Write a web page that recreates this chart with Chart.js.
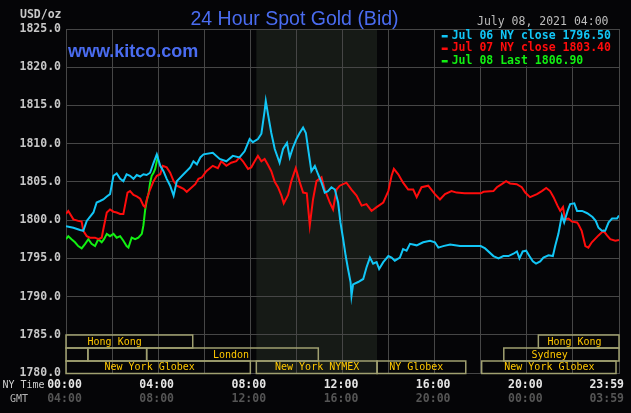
<!DOCTYPE html>
<html>
<head>
<meta charset="utf-8">
<script src="https://cdn.jsdelivr.net/npm/chart.js@4.4.0/dist/chart.umd.min.js"></script>
<style>
  html, body { margin: 0; padding: 0; background: #050507; }
  #wrap { width: 631px; height: 413px; }
</style>
</head>
<body>
<div id="wrap"><canvas id="gold" width="631" height="413"></canvas></div>
<script>
// spot gold bid, 24h (x = NY hour)
const jul06Hours = [0, 0.32, 0.61, 0.75, 0.9, 1.19, 1.33, 1.48, 1.62, 1.77, 1.91, 2.06, 2.2, 2.35, 2.49, 2.63, 2.78, 2.93, 3.07, 3.22, 3.36, 3.5, 3.65, 3.8, 3.94, 4.09, 4.23, 4.37, 4.52, 4.67, 4.81, 5.1, 5.39, 5.53, 5.68, 5.83, 5.97, 6.37, 6.67, 6.96, 7.24, 7.53, 7.75, 7.97, 8.11, 8.33, 8.48, 8.62, 8.67, 8.77, 8.91, 9.06, 9.27, 9.42, 9.59, 9.71, 9.85, 10.0, 10.14, 10.29, 10.41, 10.51, 10.65, 10.8, 10.94, 11.09, 11.23, 11.37, 11.52, 11.67, 11.81, 11.91, 12.03, 12.14, 12.24, 12.35, 12.39, 12.46, 12.68, 12.9, 13.04, 13.19, 13.33, 13.48, 13.59, 13.77, 13.99, 14.13, 14.27, 14.49, 14.63, 14.78, 14.93, 15.22, 15.5, 15.8, 16.01, 16.16, 16.37, 16.67, 17.1, 18.0, 18.19, 18.55, 18.77, 18.98, 19.2, 19.42, 19.57, 19.68, 19.82, 19.97, 20.11, 20.26, 20.4, 20.58, 20.72, 20.94, 21.13, 21.23, 21.37, 21.52, 21.62, 21.77, 21.88, 22.06, 22.18, 22.4, 22.62, 22.85, 22.99, 23.11, 23.26, 23.4, 23.55, 23.7, 23.91, 24];
const jul06Bid = [1799.2, 1799.0, 1798.7, 1798.6, 1799.9, 1801.0, 1802.3, 1802.5, 1802.7, 1803.1, 1803.4, 1805.8, 1806.1, 1805.4, 1805.1, 1806.0, 1805.8, 1805.4, 1805.9, 1805.7, 1806.0, 1805.9, 1806.2, 1807.5, 1808.6, 1807.1, 1806.4, 1805.4, 1804.5, 1803.2, 1805.1, 1806.0, 1806.9, 1807.7, 1807.3, 1808.2, 1808.6, 1808.8, 1808.0, 1807.7, 1808.4, 1808.2, 1809.0, 1810.6, 1810.2, 1810.6, 1811.3, 1814.3, 1815.6, 1813.8, 1811.4, 1809.3, 1807.5, 1809.3, 1810.1, 1808.2, 1809.5, 1810.6, 1811.4, 1812.1, 1811.4, 1809.3, 1806.4, 1807.1, 1806.0, 1804.9, 1803.6, 1803.8, 1804.3, 1804.0, 1802.3, 1799.7, 1797.5, 1795.3, 1793.6, 1791.9, 1790.1, 1791.6, 1791.9, 1792.3, 1793.8, 1795.1, 1794.3, 1794.5, 1793.6, 1794.5, 1795.3, 1795.1, 1794.7, 1795.1, 1796.2, 1796.0, 1796.9, 1796.7, 1797.1, 1797.3, 1797.1, 1796.4, 1796.6, 1796.8, 1796.6, 1796.6, 1796.3, 1795.3, 1795.0, 1795.3, 1795.3, 1795.6, 1795.9, 1795.0, 1795.9, 1796.0, 1795.3, 1794.6, 1794.3, 1794.6, 1795.1, 1795.4, 1795.3, 1796.6, 1798.2, 1800.6, 1799.7, 1801.2, 1802.1, 1802.2, 1801.2, 1801.2, 1800.9, 1800.4, 1799.9, 1799.0, 1798.6, 1798.6, 1799.7, 1800.2, 1800.2, 1800.6];

const jul07Hours = [0, 0.1, 0.32, 0.53, 0.68, 0.75, 0.9, 1.04, 1.26, 1.4, 1.55, 1.62, 1.77, 1.91, 2.06, 2.2, 2.35, 2.49, 2.56, 2.67, 2.78, 2.93, 3.07, 3.22, 3.36, 3.43, 3.53, 3.65, 3.8, 3.94, 4.09, 4.2, 4.37, 4.52, 4.67, 4.81, 4.96, 5.1, 5.24, 5.39, 5.61, 5.75, 5.9, 6.09, 6.37, 6.59, 6.74, 6.96, 7.17, 7.39, 7.53, 7.68, 7.9, 8.04, 8.19, 8.33, 8.48, 8.62, 8.77, 8.91, 9.06, 9.2, 9.35, 9.45, 9.64, 9.78, 9.97, 10.14, 10.29, 10.45, 10.58, 10.72, 10.87, 11.09, 11.23, 11.45, 11.59, 11.74, 11.88, 12.17, 12.39, 12.61, 12.83, 13.04, 13.26, 13.48, 13.77, 13.99, 14.13, 14.23, 14.42, 14.63, 14.85, 15.07, 15.22, 15.43, 15.72, 16.01, 16.23, 16.45, 16.73, 16.95, 17.3, 18.0, 18.12, 18.55, 18.7, 18.91, 19.1, 19.27, 19.56, 19.78, 19.93, 20.14, 20.29, 20.44, 20.65, 20.84, 21.01, 21.16, 21.33, 21.45, 21.57, 21.66, 21.81, 21.96, 22.18, 22.23, 22.38, 22.54, 22.67, 22.82, 23.11, 23.33, 23.48, 23.62, 23.84, 24];
const jul07Bid = [1800.8, 1801.2, 1800.1, 1799.9, 1799.8, 1798.6, 1797.9, 1797.7, 1797.7, 1797.5, 1797.7, 1798.8, 1801.0, 1801.4, 1801.1, 1801.0, 1800.8, 1800.8, 1801.9, 1803.6, 1803.8, 1803.3, 1803.1, 1802.8, 1801.9, 1801.7, 1803.0, 1804.0, 1805.1, 1805.8, 1806.0, 1807.1, 1806.9, 1806.2, 1805.1, 1804.5, 1804.3, 1804.1, 1803.7, 1804.1, 1804.7, 1805.4, 1805.6, 1806.4, 1807.1, 1806.8, 1807.7, 1807.1, 1807.5, 1807.7, 1808.2, 1807.7, 1806.7, 1806.9, 1807.7, 1808.4, 1807.7, 1808.0, 1807.2, 1806.4, 1805.0, 1804.3, 1803.2, 1802.2, 1803.3, 1805.1, 1806.8, 1805.0, 1803.6, 1803.5, 1799.3, 1802.7, 1805.1, 1805.6, 1804.0, 1802.3, 1801.4, 1804.0, 1804.5, 1804.9, 1804.0, 1803.2, 1801.9, 1802.1, 1801.2, 1801.7, 1802.3, 1803.8, 1805.8, 1806.7, 1806.0, 1804.9, 1804.0, 1804.0, 1803.0, 1804.3, 1804.5, 1803.4, 1802.7, 1803.4, 1803.8, 1803.6, 1803.5, 1803.5, 1803.7, 1803.8, 1804.3, 1804.7, 1805.1, 1804.8, 1804.7, 1804.3, 1803.6, 1803.0, 1803.2, 1803.4, 1803.8, 1804.2, 1803.8, 1803.0, 1801.9, 1801.2, 1801.7, 1800.1, 1800.2, 1799.8, 1799.7, 1799.5, 1798.6, 1796.6, 1796.4, 1797.1, 1798.0, 1798.6, 1798.0, 1797.5, 1797.3, 1797.4];

const jul08Hours = [0, 0.1, 0.24, 0.39, 0.53, 0.68, 0.83, 0.97, 1.11, 1.26, 1.4, 1.55, 1.65, 1.77, 1.91, 2.06, 2.2, 2.35, 2.49, 2.63, 2.71, 2.85, 3.0, 3.14, 3.29, 3.36, 3.43, 3.5, 3.58, 3.65, 3.72, 3.8, 3.87, 3.94, 3.98, 4.0];
const jul08Bid = [1797.5, 1797.9, 1797.5, 1797.1, 1796.6, 1796.3, 1796.9, 1797.5, 1796.9, 1796.6, 1797.5, 1797.1, 1797.5, 1798.2, 1797.9, 1798.2, 1797.7, 1797.9, 1797.3, 1796.6, 1796.4, 1797.7, 1797.5, 1797.7, 1798.2, 1799.3, 1801.2, 1802.5, 1803.4, 1804.9, 1805.8, 1806.2, 1806.7, 1807.7, 1808.2, 1808.0];

const seriesNames = ["Jul 06 NY close", "Jul 07 NY close", "Jul 08 Last"];
const seriesCloses = [1796.50, 1803.40, 1806.90];
const seriesColors = ["#12c6f6", "#ff0c0c", "#12f012"];

const nyLabels = ["00:00", "04:00", "08:00", "12:00", "16:00", "20:00", "23:59"];
const gmtLabels = ["04:00", "08:00", "12:00", "16:00", "20:00", "00:00", "03:59"];
const labelHours = [0, 4, 8, 12, 16, 20, 24];

// market sessions: row, from, to, name, where the name sits (hours)
const sessions = [
  [0, 0, 5.5, "Hong Kong", 2.11],
  [0, 20.5, 24, "Hong Kong", 22.07],
  [1, 0, 0.95, "", 0],
  [1, 0.95, 3.5, "", 0],
  [1, 3.5, 10.95, "London", 7.16],
  [1, 19, 24, "Sydney", 20.99],
  [2, 0, 8, "New York Globex", 3.63],
  [2, 8.26, 13.5, "New York NYMEX", 10.9],
  [2, 13.5, 17.35, "NY Globex", 15.2],
  [2, 18.04, 23.87, "New York Globex", 20.98]
];
const nymexOpen = 8.26, nymexClose = 13.5;

const mono = '"DejaVu Sans Mono", monospace';
const blue = "#4a6cf0";

function pts(h, v) {
  return h.map(function (x, i) { return { x: x, y: v[i] }; });
}

const kitcoDecor = {
  id: "kitcoDecor",
  beforeDraw(chart) {
    const ctx = chart.ctx, a = chart.chartArea, x = chart.scales.x;
    ctx.save();
    ctx.fillStyle = "#050507";
    ctx.fillRect(0, 0, chart.width, chart.height);
    const x0 = x.getPixelForValue(nymexOpen), x1 = x.getPixelForValue(nymexClose);
    ctx.fillStyle = "#161a16";
    ctx.fillRect(x0, a.top, x1 - x0, a.bottom - a.top);
    ctx.restore();
  },
  afterDatasetsDraw(chart) {
    const ctx = chart.ctx, x = chart.scales.x, y = chart.scales.y;
    ctx.save();

    // headings
    ctx.textBaseline = "alphabetic";
    ctx.textAlign = "center";
    ctx.fillStyle = blue;
    ctx.font = '19.5px "Liberation Sans", Arial, sans-serif';
    ctx.fillText("24 Hour Spot Gold (Bid)", 294.5, 25);
    ctx.textAlign = "left";
    ctx.font = 'bold 18px "Liberation Sans", Arial, sans-serif';
    ctx.fillText("www.kitco.com", 68, 57);

    ctx.textBaseline = "middle";
    ctx.fillStyle = "#c8c8c8";
    ctx.font = "bold 11.5px " + mono;
    ctx.fillText("USD/oz", 20, 15.5);
    ctx.textAlign = "right";
    ctx.fillStyle = "#bdbdbd";
    ctx.font = "11.5px " + mono;
    ctx.fillText("July 08, 2021 04:00", 608.5, 22.5);

    // legend cell
    const lx0 = x.getPixelForValue(16) + 1, lx1 = x.getPixelForValue(24) - 1;
    const ly0 = y.getPixelForValue(1825) + 1, ly1 = y.getPixelForValue(1820) - 1;
    ctx.fillStyle = "#050507";
    ctx.fillRect(lx0, ly0, lx1 - lx0, ly1 - ly0);
    ctx.textAlign = "left";
    ctx.font = "bold 11.5px " + mono;
    seriesNames.forEach(function (name, i) {
      const ty = 36 + i * 12.5;
      ctx.fillStyle = seriesColors[i];
      ctx.fillRect(441.7, ty - 1, 6, 2.5);
      ctx.fillText(name + " " + seriesCloses[i].toFixed(2), 451.7, ty);
    });

    // sessions
    const rowTop = [335, 348, 361], rowBot = [348, 361, 373.5];
    ctx.strokeStyle = "#a0a070";
    ctx.lineWidth = 1.5;
    ctx.font = "10px " + mono;
    ctx.fillStyle = "#ffc800";
    ctx.textAlign = "center";
    sessions.forEach(function (s) {
      const sx0 = x.getPixelForValue(s[1]), sx1 = x.getPixelForValue(s[2]);
      ctx.strokeRect(sx0, rowTop[s[0]], sx1 - sx0, rowBot[s[0]] - rowTop[s[0]]);
      if (s[3]) {
        ctx.fillText(s[3], x.getPixelForValue(s[4]), (rowTop[s[0]] + rowBot[s[0]]) / 2 + 0.5);
      }
    });

    // time labels
    ctx.font = "10px " + mono;
    ctx.textAlign = "left";
    ctx.fillStyle = "#cfcfcf";
    ctx.fillText("NY Time", 2.5, 385);
    ctx.fillStyle = "#b5b5b5";
    ctx.fillText("GMT", 10, 399);
    ctx.font = "bold 11.5px " + mono;
    labelHours.forEach(function (h, i) {
      let px = x.getPixelForValue(h);
      if (i === labelHours.length - 1) {
        ctx.textAlign = "right";
        px += 5;
      } else {
        ctx.textAlign = "center";
        px -= 1.5;
      }
      ctx.fillStyle = "#e6e6e6";
      ctx.fillText(nyLabels[i], px, 385);
      ctx.fillStyle = "#555555";
      ctx.fillText(gmtLabels[i], px, 399);
    });
    ctx.restore();
  }
};

new Chart(document.getElementById("gold"), {
  type: "line",
  data: {
    datasets: [
      { label: seriesNames[0], data: pts(jul06Hours, jul06Bid), borderColor: seriesColors[0], borderWidth: 2, pointRadius: 0, tension: 0 },
      { label: seriesNames[1], data: pts(jul07Hours, jul07Bid), borderColor: seriesColors[1], borderWidth: 2, pointRadius: 0, tension: 0 },
      { label: seriesNames[2], data: pts(jul08Hours, jul08Bid), borderColor: seriesColors[2], borderWidth: 2, pointRadius: 0, tension: 0 }
    ]
  },
  options: {
    responsive: false,
    animation: false,
    devicePixelRatio: 1,
    layout: { padding: { top: 29, right: 12, left: 0, bottom: 0 } },
    plugins: { legend: { display: false }, tooltip: { enabled: false } },
    scales: {
      x: {
        type: "linear",
        min: 0,
        max: 24,
        ticks: { display: false, stepSize: 2 },
        grid: { color: "#464646", drawTicks: false },
        border: { color: "#464646" },
        afterFit: function (s) { s.height = 40; }
      },
      y: {
        min: 1780,
        max: 1825,
        ticks: {
          stepSize: 5,
          padding: 5,
          color: "#c8c8c8",
          font: { family: mono, size: 11.5, weight: "bold" },
          callback: function (v) { return v.toFixed(1); }
        },
        grid: { color: "#464646", drawTicks: false },
        border: { color: "#464646" },
        afterFit: function (s) { s.width = 66; }
      }
    }
  },
  plugins: [kitcoDecor]
});
</script>
</body>
</html>
